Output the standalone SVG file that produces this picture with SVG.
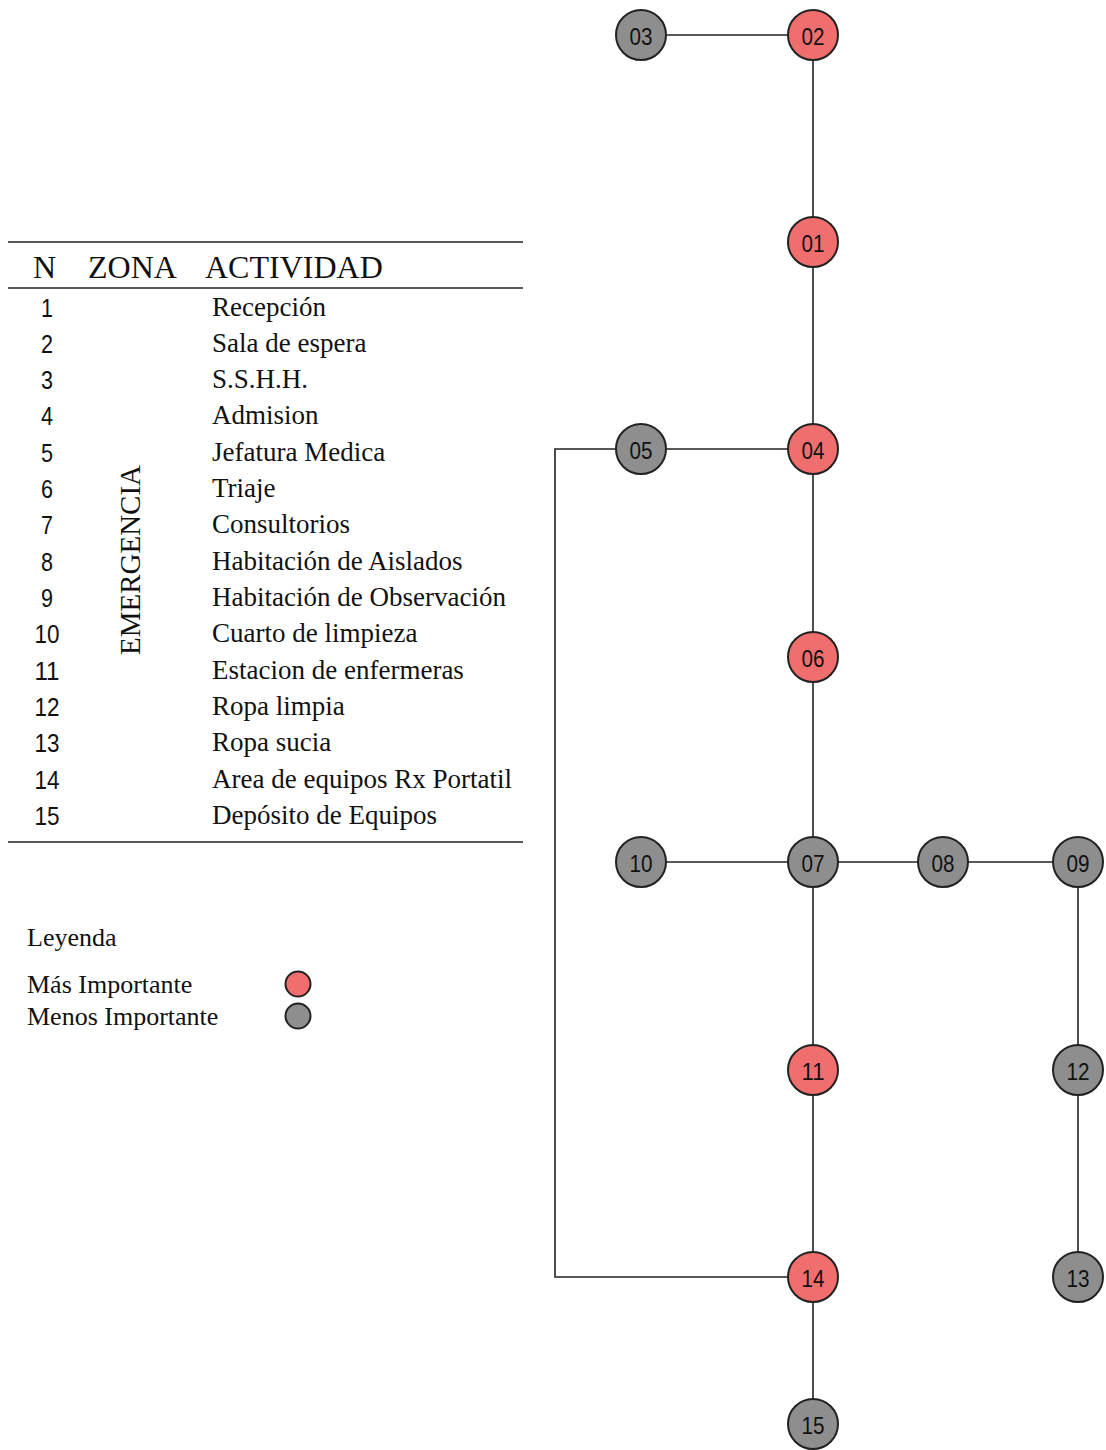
<svg xmlns="http://www.w3.org/2000/svg" width="1106" height="1450" viewBox="0 0 1106 1450">
  <style>
    .serif { font-family: "Liberation Serif", "Times New Roman", serif; fill: #111; }
    .sans { font-family: "Liberation Sans", Arial, sans-serif; fill: #111; }
    .hdr { font-size: 32px; }
    .row { font-size: 27px; }
    .num { font-size: 26px; text-anchor: middle; }
    .rule { stroke: #222; stroke-width: 1.6; }
    .wire { stroke: #222; stroke-width: 1.6; fill: none; }
    .hi { fill: #f06e6e; stroke: #222; stroke-width: 2; }
    .lo { fill: #8e8e8e; stroke: #222; stroke-width: 2; }
    .lbl { font-family: "Liberation Sans", Arial, sans-serif; font-size: 24px; fill: #111; text-anchor: middle; dominant-baseline: central; }
  </style>
  <rect width="1106" height="1450" fill="#ffffff"/>

  <!-- activity table -->
  <g id="table">
    <line class="rule" x1="8" y1="242" x2="523" y2="242"/>
    <line class="rule" x1="8" y1="288" x2="523" y2="288"/>
    <line class="rule" x1="8" y1="842" x2="523" y2="842"/>
    <text class="serif hdr" x="33" y="278">N</text>
    <text class="serif hdr" x="88" y="278">ZONA</text>
    <text class="serif hdr" x="205" y="278">ACTIVIDAD</text>
    <text class="serif" font-size="29" transform="translate(140,560) rotate(-90)" text-anchor="middle">EMERGENCIA</text>
    <g class="sans num">
      <text x="47" y="317" textLength="12" lengthAdjust="spacingAndGlyphs">1</text>
      <text x="47" y="353" textLength="12" lengthAdjust="spacingAndGlyphs">2</text>
      <text x="47" y="389" textLength="12" lengthAdjust="spacingAndGlyphs">3</text>
      <text x="47" y="425" textLength="12" lengthAdjust="spacingAndGlyphs">4</text>
      <text x="47" y="462" textLength="12" lengthAdjust="spacingAndGlyphs">5</text>
      <text x="47" y="498" textLength="12" lengthAdjust="spacingAndGlyphs">6</text>
      <text x="47" y="534" textLength="12" lengthAdjust="spacingAndGlyphs">7</text>
      <text x="47" y="571" textLength="12" lengthAdjust="spacingAndGlyphs">8</text>
      <text x="47" y="607" textLength="12" lengthAdjust="spacingAndGlyphs">9</text>
      <text x="47" y="643" textLength="25" lengthAdjust="spacingAndGlyphs">10</text>
      <text x="47" y="680" textLength="25" lengthAdjust="spacingAndGlyphs">11</text>
      <text x="47" y="716" textLength="25" lengthAdjust="spacingAndGlyphs">12</text>
      <text x="47" y="752" textLength="25" lengthAdjust="spacingAndGlyphs">13</text>
      <text x="47" y="789" textLength="25" lengthAdjust="spacingAndGlyphs">14</text>
      <text x="47" y="825" textLength="25" lengthAdjust="spacingAndGlyphs">15</text>
    </g>
    <g class="serif row">
      <text x="212" y="316">Recepción</text>
      <text x="212" y="352">Sala de espera</text>
      <text x="212" y="388">S.S.H.H.</text>
      <text x="212" y="424">Admision</text>
      <text x="212" y="461">Jefatura Medica</text>
      <text x="212" y="497">Triaje</text>
      <text x="212" y="533">Consultorios</text>
      <text x="212" y="570">Habitación de Aislados</text>
      <text x="212" y="606">Habitación de Observación</text>
      <text x="212" y="642">Cuarto de limpieza</text>
      <text x="212" y="679">Estacion de enfermeras</text>
      <text x="212" y="715">Ropa limpia</text>
      <text x="212" y="751">Ropa sucia</text>
      <text x="212" y="788">Area de equipos Rx Portatil</text>
      <text x="212" y="824">Depósito de Equipos</text>
    </g>
  </g>

  <!-- legend -->
  <g id="legend">
    <text class="serif" font-size="26" x="27" y="946">Leyenda</text>
    <text class="serif" font-size="26" x="27" y="993">Más Importante</text>
    <text class="serif" font-size="26" x="27" y="1025">Menos Importante</text>
    <circle class="hi" cx="298" cy="984" r="12.5"/>
    <circle class="lo" cx="298" cy="1016" r="12.5"/>
  </g>

  <!-- connectors -->
  <g id="connectors">
    <line class="wire" x1="641" y1="35" x2="813" y2="35"/>
    <line class="wire" x1="813" y1="35" x2="813" y2="242"/>
    <line class="wire" x1="813" y1="242" x2="813" y2="449"/>
    <line class="wire" x1="641" y1="449" x2="813" y2="449"/>
    <polyline class="wire" points="616,449 555,449 555,1277 813,1277"/>
    <line class="wire" x1="813" y1="449" x2="813" y2="657"/>
    <line class="wire" x1="813" y1="657" x2="813" y2="862"/>
    <line class="wire" x1="641" y1="862" x2="813" y2="862"/>
    <line class="wire" x1="813" y1="862" x2="943" y2="862"/>
    <line class="wire" x1="943" y1="862" x2="1078" y2="862"/>
    <line class="wire" x1="813" y1="862" x2="813" y2="1070"/>
    <line class="wire" x1="813" y1="1070" x2="813" y2="1277"/>
    <line class="wire" x1="813" y1="1277" x2="813" y2="1424"/>
    <line class="wire" x1="1078" y1="862" x2="1078" y2="1070"/>
    <line class="wire" x1="1078" y1="1070" x2="1078" y2="1277"/>
  </g>

  <!-- nodes -->
  <g id="n01"><circle class="hi" cx="813" cy="242" r="25"/><text class="lbl" x="813" y="243" textLength="23" lengthAdjust="spacingAndGlyphs">01</text></g>
  <g id="n02"><circle class="hi" cx="813" cy="35" r="25"/><text class="lbl" x="813" y="36" textLength="23" lengthAdjust="spacingAndGlyphs">02</text></g>
  <g id="n03"><circle class="lo" cx="641" cy="35" r="25"/><text class="lbl" x="641" y="36" textLength="23" lengthAdjust="spacingAndGlyphs">03</text></g>
  <g id="n04"><circle class="hi" cx="813" cy="449" r="25"/><text class="lbl" x="813" y="450" textLength="23" lengthAdjust="spacingAndGlyphs">04</text></g>
  <g id="n05"><circle class="lo" cx="641" cy="449" r="25"/><text class="lbl" x="641" y="450" textLength="23" lengthAdjust="spacingAndGlyphs">05</text></g>
  <g id="n06"><circle class="hi" cx="813" cy="657" r="25"/><text class="lbl" x="813" y="658" textLength="23" lengthAdjust="spacingAndGlyphs">06</text></g>
  <g id="n07"><circle class="lo" cx="813" cy="862" r="25"/><text class="lbl" x="813" y="863" textLength="23" lengthAdjust="spacingAndGlyphs">07</text></g>
  <g id="n08"><circle class="lo" cx="943" cy="862" r="25"/><text class="lbl" x="943" y="863" textLength="23" lengthAdjust="spacingAndGlyphs">08</text></g>
  <g id="n09"><circle class="lo" cx="1078" cy="862" r="25"/><text class="lbl" x="1078" y="863" textLength="23" lengthAdjust="spacingAndGlyphs">09</text></g>
  <g id="n10"><circle class="lo" cx="641" cy="862" r="25"/><text class="lbl" x="641" y="863" textLength="23" lengthAdjust="spacingAndGlyphs">10</text></g>
  <g id="n11"><circle class="hi" cx="813" cy="1070" r="25"/><text class="lbl" x="813" y="1071" textLength="23" lengthAdjust="spacingAndGlyphs">11</text></g>
  <g id="n12"><circle class="lo" cx="1078" cy="1070" r="25"/><text class="lbl" x="1078" y="1071" textLength="23" lengthAdjust="spacingAndGlyphs">12</text></g>
  <g id="n13"><circle class="lo" cx="1078" cy="1277" r="25"/><text class="lbl" x="1078" y="1278" textLength="23" lengthAdjust="spacingAndGlyphs">13</text></g>
  <g id="n14"><circle class="hi" cx="813" cy="1277" r="25"/><text class="lbl" x="813" y="1278" textLength="23" lengthAdjust="spacingAndGlyphs">14</text></g>
  <g id="n15"><circle class="lo" cx="813" cy="1424" r="25"/><text class="lbl" x="813" y="1425" textLength="23" lengthAdjust="spacingAndGlyphs">15</text></g>
</svg>
